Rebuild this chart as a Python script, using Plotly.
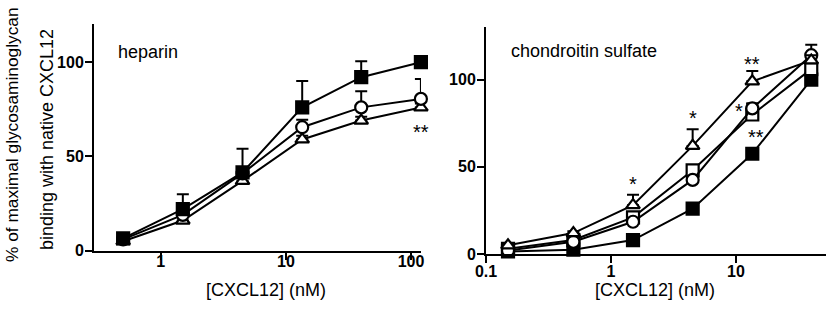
import plotly.graph_objects as go
import numpy as np

# ---- data ----
hep_conc = [0.5, 1.5, 4.5, 13.5, 40, 120]
hep_sq = [6.5, 22, 41.5, 76, 92, 100]
hep_sq_err = [1, 8, 12.5, 14, 8.5, 1]
hep_ci = [6, 19, 41, 65.5, 76, 80.5]
hep_ci_err = [1, 2, 2, 4, 8.5, 10.5]
hep_tr = [5, 16, 37, 59, 69, 76]
hep_tr_err = [1, 2, 2, 2, 2, 2]

cs_conc = [0.15, 0.5, 1.5, 4.5, 13.5, 40]
cs_fsq = [1.5, 2.5, 8, 26, 57.5, 100]
cs_fsq_err = [0.5, 0.5, 1, 1.5, 2, 1]
cs_ci = [2, 7, 18.5, 42.5, 83.5, 114]
cs_ci_err = [0.5, 1, 2, 2, 3, 6]
cs_osq = [3, 8, 21, 48, 80, 106]
cs_osq_err = [0.5, 1, 2, 3, 6, 3]
cs_tr = [5, 12, 28, 62, 99, 111]
cs_tr_err = [1, 1, 6, 9.5, 6, 3]

hep_ticks = [1, 10, 100]
cs_ticks = [0.1, 1, 10]
y_ticks = [0, 50, 100]

W, H = 829, 311
FONT = "Liberation Sans, Arial, sans-serif"

fig = go.Figure()

def add(x, y, err, symbol, fill, xa, ya):
    fig.add_trace(go.Scatter(
        x=x, y=y, mode="lines+markers", xaxis=xa, yaxis=ya,
        line=dict(color="black", width=2),
        marker=dict(symbol=symbol, size=12, color=fill,
                    line=dict(color="black", width=2.2)),
        error_y=dict(type="data", array=err, arrayminus=[0]*len(err),
                     symmetric=False, color="black", thickness=2, width=6),
        showlegend=False, cliponaxis=False))

add(hep_conc, hep_tr, hep_tr_err, "triangle-up", "white", "x", "y")
add(hep_conc, hep_ci, hep_ci_err, "circle", "white", "x", "y")
add(hep_conc, hep_sq, hep_sq_err, "square", "black", "x", "y")

add(cs_conc, cs_fsq, cs_fsq_err, "square", "black", "x2", "y2")
add(cs_conc, cs_osq, cs_osq_err, "square", "white", "x2", "y2")
add(cs_conc, cs_ci, cs_ci_err, "circle", "white", "x2", "y2")
add(cs_conc, cs_tr, cs_tr_err, "triangle-up", "white", "x2", "y2")

axis_common = dict(showline=True, linecolor="black", linewidth=2,
                   ticks="outside", ticklen=7, tickwidth=2, tickcolor="black",
                   showgrid=False, zeroline=False, automargin=False,
                   tickfont=dict(family=FONT, size=16, color="black", weight="bold"))

fig.update_layout(
    width=W, height=H, margin=dict(l=0, r=0, t=0, b=0),
    plot_bgcolor="white", paper_bgcolor="white",
    xaxis=dict(type="log", domain=[94/W, 421/W], range=[-0.534, 2.08],
               tickvals=hep_ticks, ticktext=[str(v) for v in hep_ticks],
               anchor="y", ticklabelstandoff=-12, **axis_common),
    yaxis=dict(domain=[1-250.7/H, 1-24.4/H], range=[0, 120],
               tickvals=y_ticks, anchor="x", ticklabelstandoff=-2, **axis_common),
    xaxis2=dict(type="log", domain=[486/W, 826/W], range=[-1, 1.72],
                tickvals=cs_ticks, ticktext=[str(v) for v in cs_ticks],
                anchor="y2", ticklabelstandoff=-5, **axis_common),
    yaxis2=dict(domain=[1-254/H, 1-27.3/H], range=[0, 130],
                tickvals=y_ticks, anchor="x2", ticklabelstandoff=-2, **axis_common),
)

def ann_px(text, x, y, size=18, angle=0):
    fig.add_annotation(text=text, x=x/W, y=1-y/H, xref="paper", yref="paper",
                       showarrow=False, textangle=angle,
                       font=dict(family=FONT, size=size, color="black"),
                       xanchor="center", yanchor="middle")

ann_px("% of maximal glycosaminoglycan", 12, 135, 17.3, -90)
ann_px("binding with native CXCL12", 47, 140, 18, -90)
ann_px("[CXCL12] (nM)", 266, 290, 18)
ann_px("[CXCL12] (nM)", 655, 290, 18)
ann_px("heparin", 148, 52, 18)
ann_px("chondroitin sulfate", 584, 51, 18)

def star(text, x, y, xa, ya):
    fig.add_annotation(text=text, x=np.log10(x), y=y, xref=xa, yref=ya,
                       showarrow=False, font=dict(family=FONT, size=20, color="black"),
                       xanchor="center", yanchor="middle")

star("**", 120, 63, "x", "y")
star("*", 1.5, 40, "x2", "y2")
star("*", 4.5, 78, "x2", "y2")
star("**", 13.5, 109, "x2", "y2")
star("*", 10.5, 82, "x2", "y2")
star("**", 14.5, 67, "x2", "y2")

fig.write_html("out.html", post_script="document.body.style.margin='0px';",
               config={"displayModeBar": False})
